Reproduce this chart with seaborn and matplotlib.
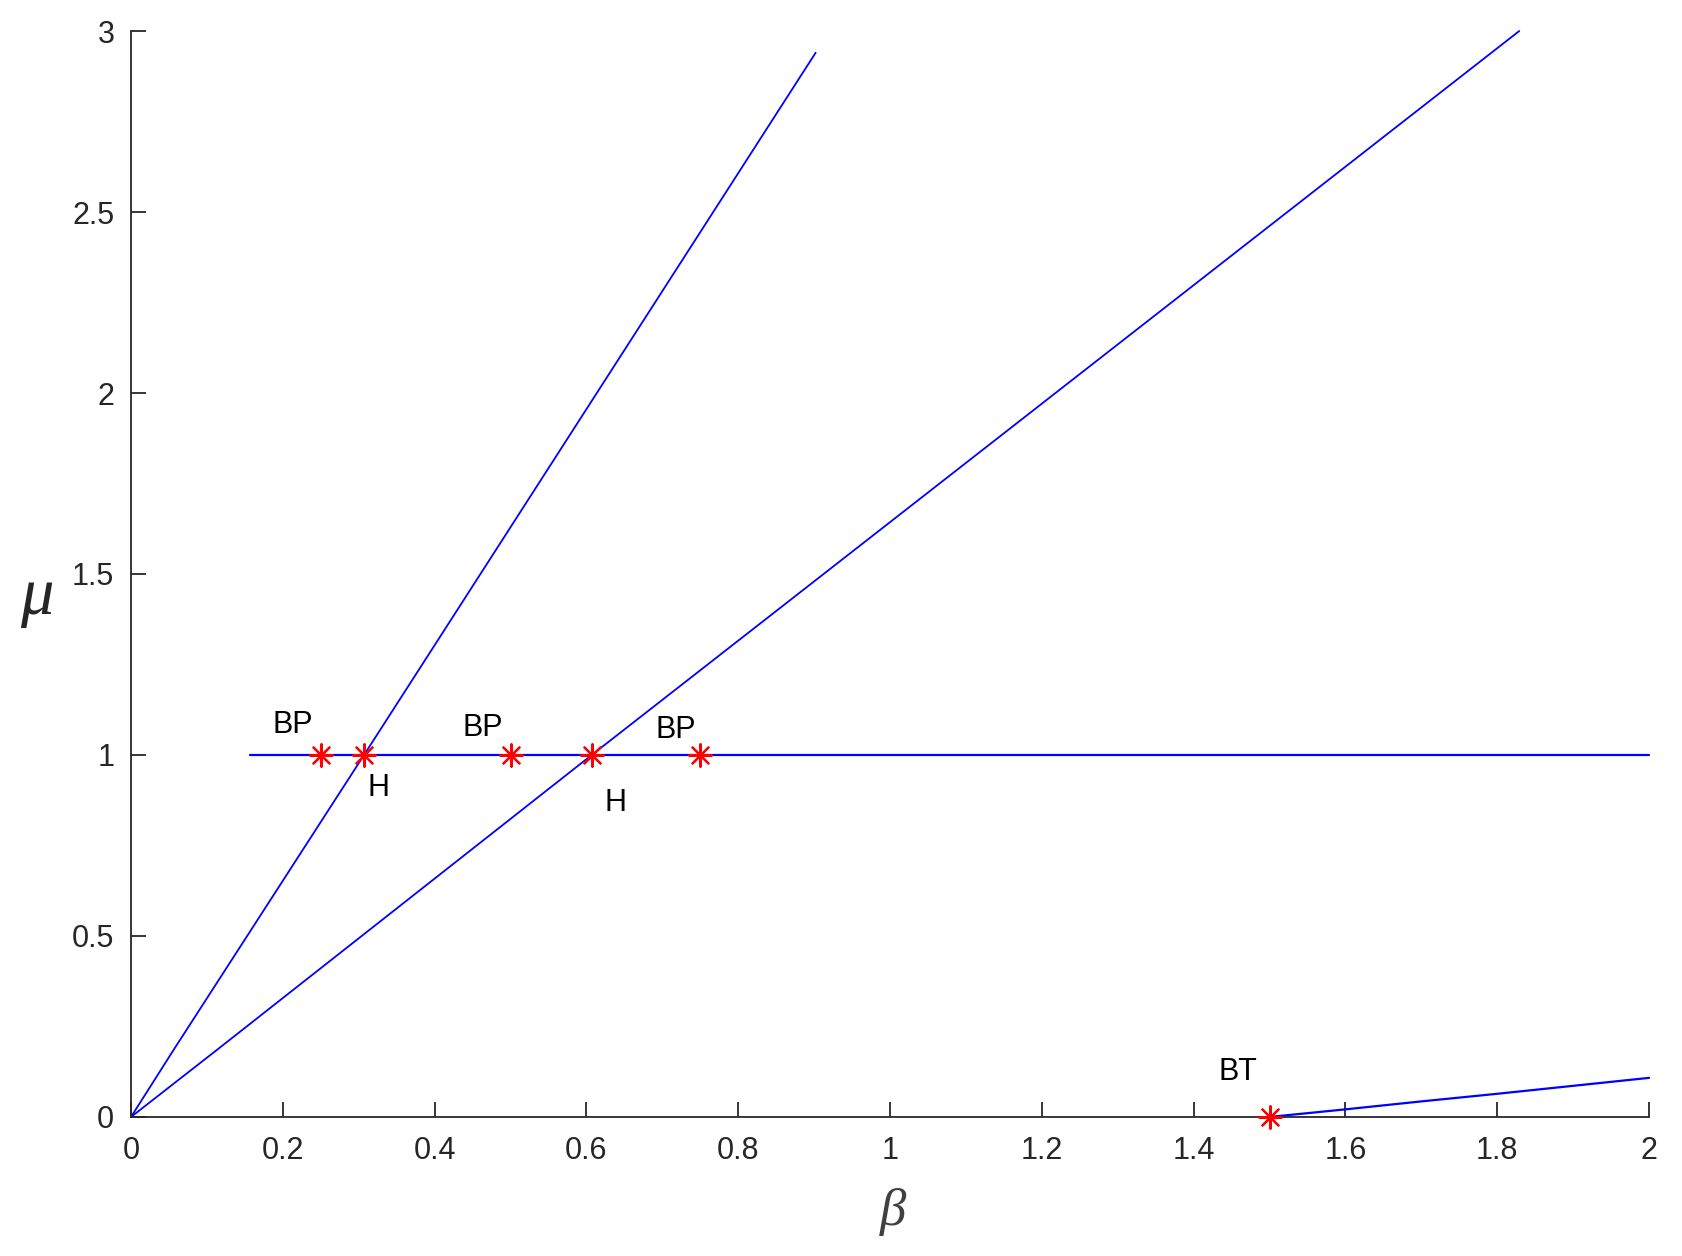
import matplotlib
matplotlib.use("Agg")
import matplotlib.pyplot as plt
import seaborn as sns
import pandas as pd
from matplotlib.ticker import FormatStrFormatter

# branch data
beta_h1 = [0.0, 0.056, 0.307, 0.902]
mu_h1 = [0.0, 0.185, 1.0, 2.94]

beta_h2 = [0.0, 0.113, 0.607, 1.829]
mu_h2 = [0.0, 0.185, 1.0, 3.0]

beta_eq = [0.157, 2.0]
mu_eq = [1.0, 1.0]

beta_bt = [1.5, 1.6, 1.7, 1.8, 1.9, 2.0]
mu_bt = [0.0, 0.021, 0.043, 0.064, 0.086, 0.108]

# special points
pt_beta = [0.25, 0.307, 0.5, 0.607, 0.75, 1.5]
pt_mu = [1.0, 1.0, 1.0, 1.0, 1.0, 0.0]

lab_text = ["BP", "BP", "BP", "H", "H", "BT"]
lab_beta = [0.213, 0.464, 0.718, 0.326, 0.638, 1.459]
lab_mu = [1.083, 1.075, 1.07, 0.91, 0.867, 0.125]

xticks = [0, 0.2, 0.4, 0.6, 0.8, 1, 1.2, 1.4, 1.6, 1.8, 2]
yticks = [0, 0.5, 1, 1.5, 2, 2.5, 3]

sns.set_style("ticks")
plt.rcParams['font.family'] = ['Liberation Sans', 'DejaVu Sans']

fig = plt.figure(figsize=(16.82, 12.56), dpi=100)
ax = fig.add_axes([0.0779, 0.1107, 0.9025, 0.8646])

branches = [(beta_h1, mu_h1, 1.3), (beta_h2, mu_h2, 1.3),
            (beta_eq, mu_eq, 1.6), (beta_bt, mu_bt, 1.6)]
for b, m, lw in branches:
    df = pd.DataFrame({"beta": b, "mu": m})
    sns.lineplot(data=df, x="beta", y="mu", sort=False, estimator=None,
                 color="blue", lw=lw, ax=ax, clip_on=False)

pts = pd.DataFrame({"beta": pt_beta, "mu": pt_mu})
sns.scatterplot(data=pts, x="beta", y="mu", marker=(8, 2, 0), s=260,
                color="red", linewidth=1.6, ax=ax, zorder=5, clip_on=False)

for t, b, m in zip(lab_text, lab_beta, lab_mu):
    ax.text(b, m, t, ha="center", va="center", fontsize=22, color="black")

ax.set_xlim(0, 2)
ax.set_ylim(0, 3)
ax.set_xticks(xticks)
ax.set_yticks(yticks)
ax.xaxis.set_major_formatter(FormatStrFormatter('%g'))
ax.yaxis.set_major_formatter(FormatStrFormatter('%g'))
ax.tick_params(direction="in", length=11, width=1.3, colors="#262626",
               labelsize=22, bottom=True, left=True)
ax.tick_params(axis="x", pad=14)
ax.tick_params(axis="y", pad=12)

sns.despine(ax=ax)
for s in ["left", "bottom"]:
    ax.spines[s].set_color("#262626")
    ax.spines[s].set_linewidth(1.3)

ax.set_xlabel("β", fontsize=38, fontstyle="italic", family="Liberation Serif",
              color="#404040")
ax.set_ylabel("μ", fontsize=48, fontstyle="italic", family="Liberation Serif",
              color="#262626", rotation=0)
ax.xaxis.set_label_coords(0.502, -0.065)
ax.yaxis.set_label_coords(-0.062, 0.45)

fig.savefig("out.png", dpi=100)
